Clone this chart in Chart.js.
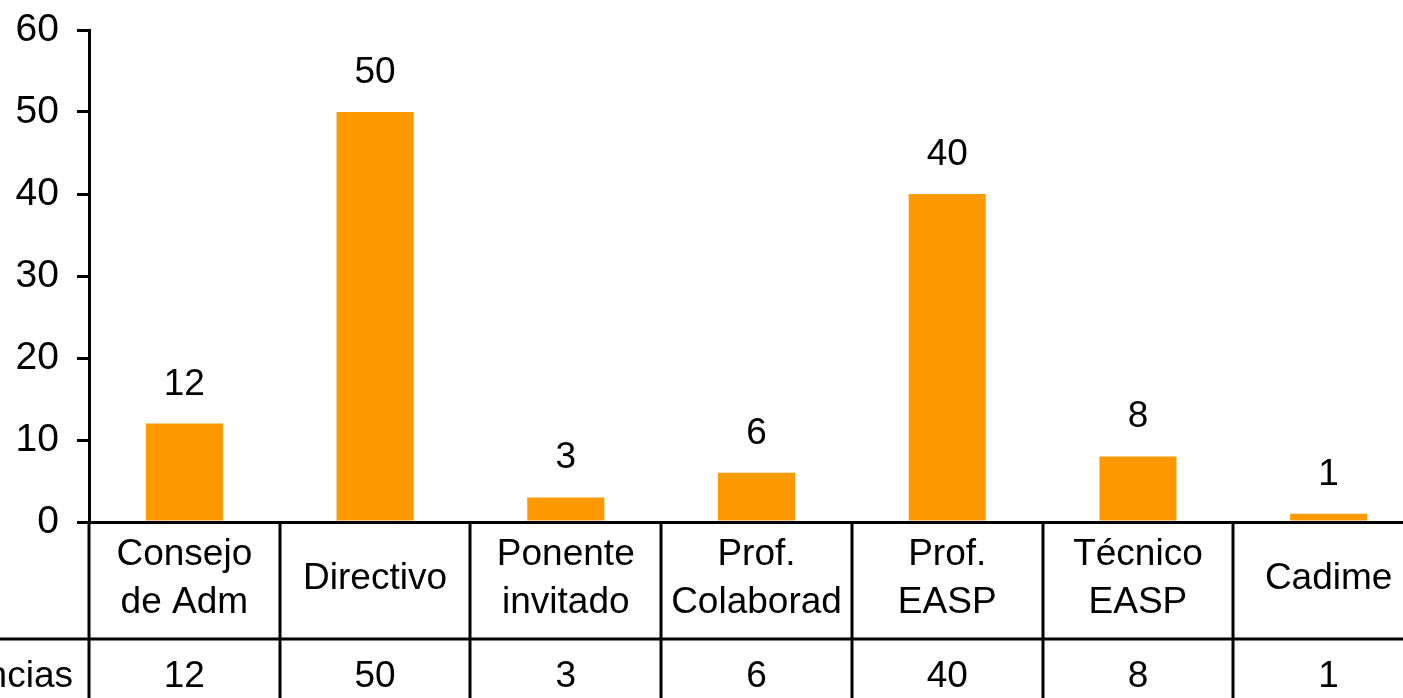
<!DOCTYPE html>
<html>
<head>
<meta charset="utf-8">
<script src="https://cdn.jsdelivr.net/npm/chart.js@4"></script>
<style>
  html, body { margin: 0; padding: 0; background: #fff; overflow: hidden; }
  #wrap { width: 1430px; height: 698px; }
</style>
</head>
<body>
<div id="wrap"><canvas id="chart"></canvas></div>
<script>
// data
const categories = [
  ["Consejo", "de Adm"],
  ["Directivo"],
  ["Ponente", "invitado"],
  ["Prof.", "Colaborad"],
  ["Prof.", "EASP"],
  ["Técnico", "EASP"],
  ["Cadime"]
];
const values = [12, 50, 3, 6, 40, 8, 1];
const seriesName = "Frecuencias";
const yTicks = [0, 10, 20, 30, 40, 50, 60];

const FONT = "Liberation Sans, Arial, sans-serif";
const ctx = document.getElementById("chart").getContext("2d");

// value labels above bars
const barLabels = {
  id: "barLabels",
  afterDatasetsDraw(chart) {
    const c = chart.ctx;
    const meta = chart.getDatasetMeta(0);
    c.save();
    c.font = "37px " + FONT;
    c.fillStyle = "#000";
    c.textAlign = "center";
    c.textBaseline = "alphabetic";
    meta.data.forEach((bar, i) => {
      c.fillText(String(values[i]), bar.x, bar.y - 29);
    });
    c.restore();
  }
};

// data table under the axis
const dataTable = {
  id: "dataTable",
  afterDraw(chart) {
    const c = chart.ctx;
    const x = chart.scales.x;
    const area = chart.chartArea;
    const step = (area.right - area.left) / categories.length;
    const row1Top = area.bottom;
    const row2Top = area.bottom + 117;
    const bottom = chart.height;

    c.save();
    c.strokeStyle = "#000";
    c.lineWidth = 3;
    // horizontal line between the two rows
    c.beginPath();
    c.moveTo(0, row2Top);
    c.lineTo(chart.width, row2Top);
    c.stroke();
    // vertical lines
    for (let k = 0; k <= categories.length; k++) {
      const px = Math.round(area.left + k * step);
      c.beginPath();
      c.moveTo(px, row1Top);
      c.lineTo(px, bottom);
      c.stroke();
    }

    c.font = "37px " + FONT;
    c.fillStyle = "#000";
    c.textAlign = "center";
    c.textBaseline = "middle";
    const mid1 = (row1Top + row2Top) / 2 - 2;
    const lh = 48;
    categories.forEach((lines, i) => {
      const cx = x.getPixelForValue(i);
      lines.forEach((t, j) => {
        const cy = mid1 + (j - (lines.length - 1) / 2) * lh;
        c.fillText(t, cx, cy);
      });
      c.fillText(String(values[i]), cx, row2Top + 38);
    });

    c.textAlign = "right";
    c.fillText(seriesName, 73, row2Top + 38);
    c.restore();
  }
};

new Chart(ctx, {
  type: "bar",
  data: {
    labels: categories.map(l => l.join(" ")),
    datasets: [{
      label: seriesName,
      data: values,
      backgroundColor: "#FF9900",
      barPercentage: 0.404,
      categoryPercentage: 1
    }]
  },
  options: {
    responsive: true,
    maintainAspectRatio: false,
    animation: false,
    layout: { padding: { left: 0, right: 6, top: 30, bottom: 176 } },
    plugins: {
      legend: { display: false },
      tooltip: { enabled: false }
    },
    scales: {
      x: {
        type: "category",
        ticks: { display: false },
        grid: { display: false },
        border: { display: true, color: "#000", width: 3 },
        afterFit: s => { s.height = 0; }
      },
      y: {
        min: 0,
        max: 60,
        afterBuildTicks: s => { s.ticks = yTicks.map(v => ({ value: v })); },
        afterFit: s => { s.width = 89; s.paddingTop = 0; s.paddingBottom = 0; },
        ticks: {
          color: "#000",
          font: { family: FONT, size: 39 },
          padding: 18
        },
        grid: {
          drawOnChartArea: false,
          drawTicks: true,
          tickLength: 12,
          color: "#000",
          lineWidth: 3
        },
        border: { display: true, color: "#000", width: 3 }
      }
    }
  },
  plugins: [barLabels, dataTable]
});
</script>
</body>
</html>
